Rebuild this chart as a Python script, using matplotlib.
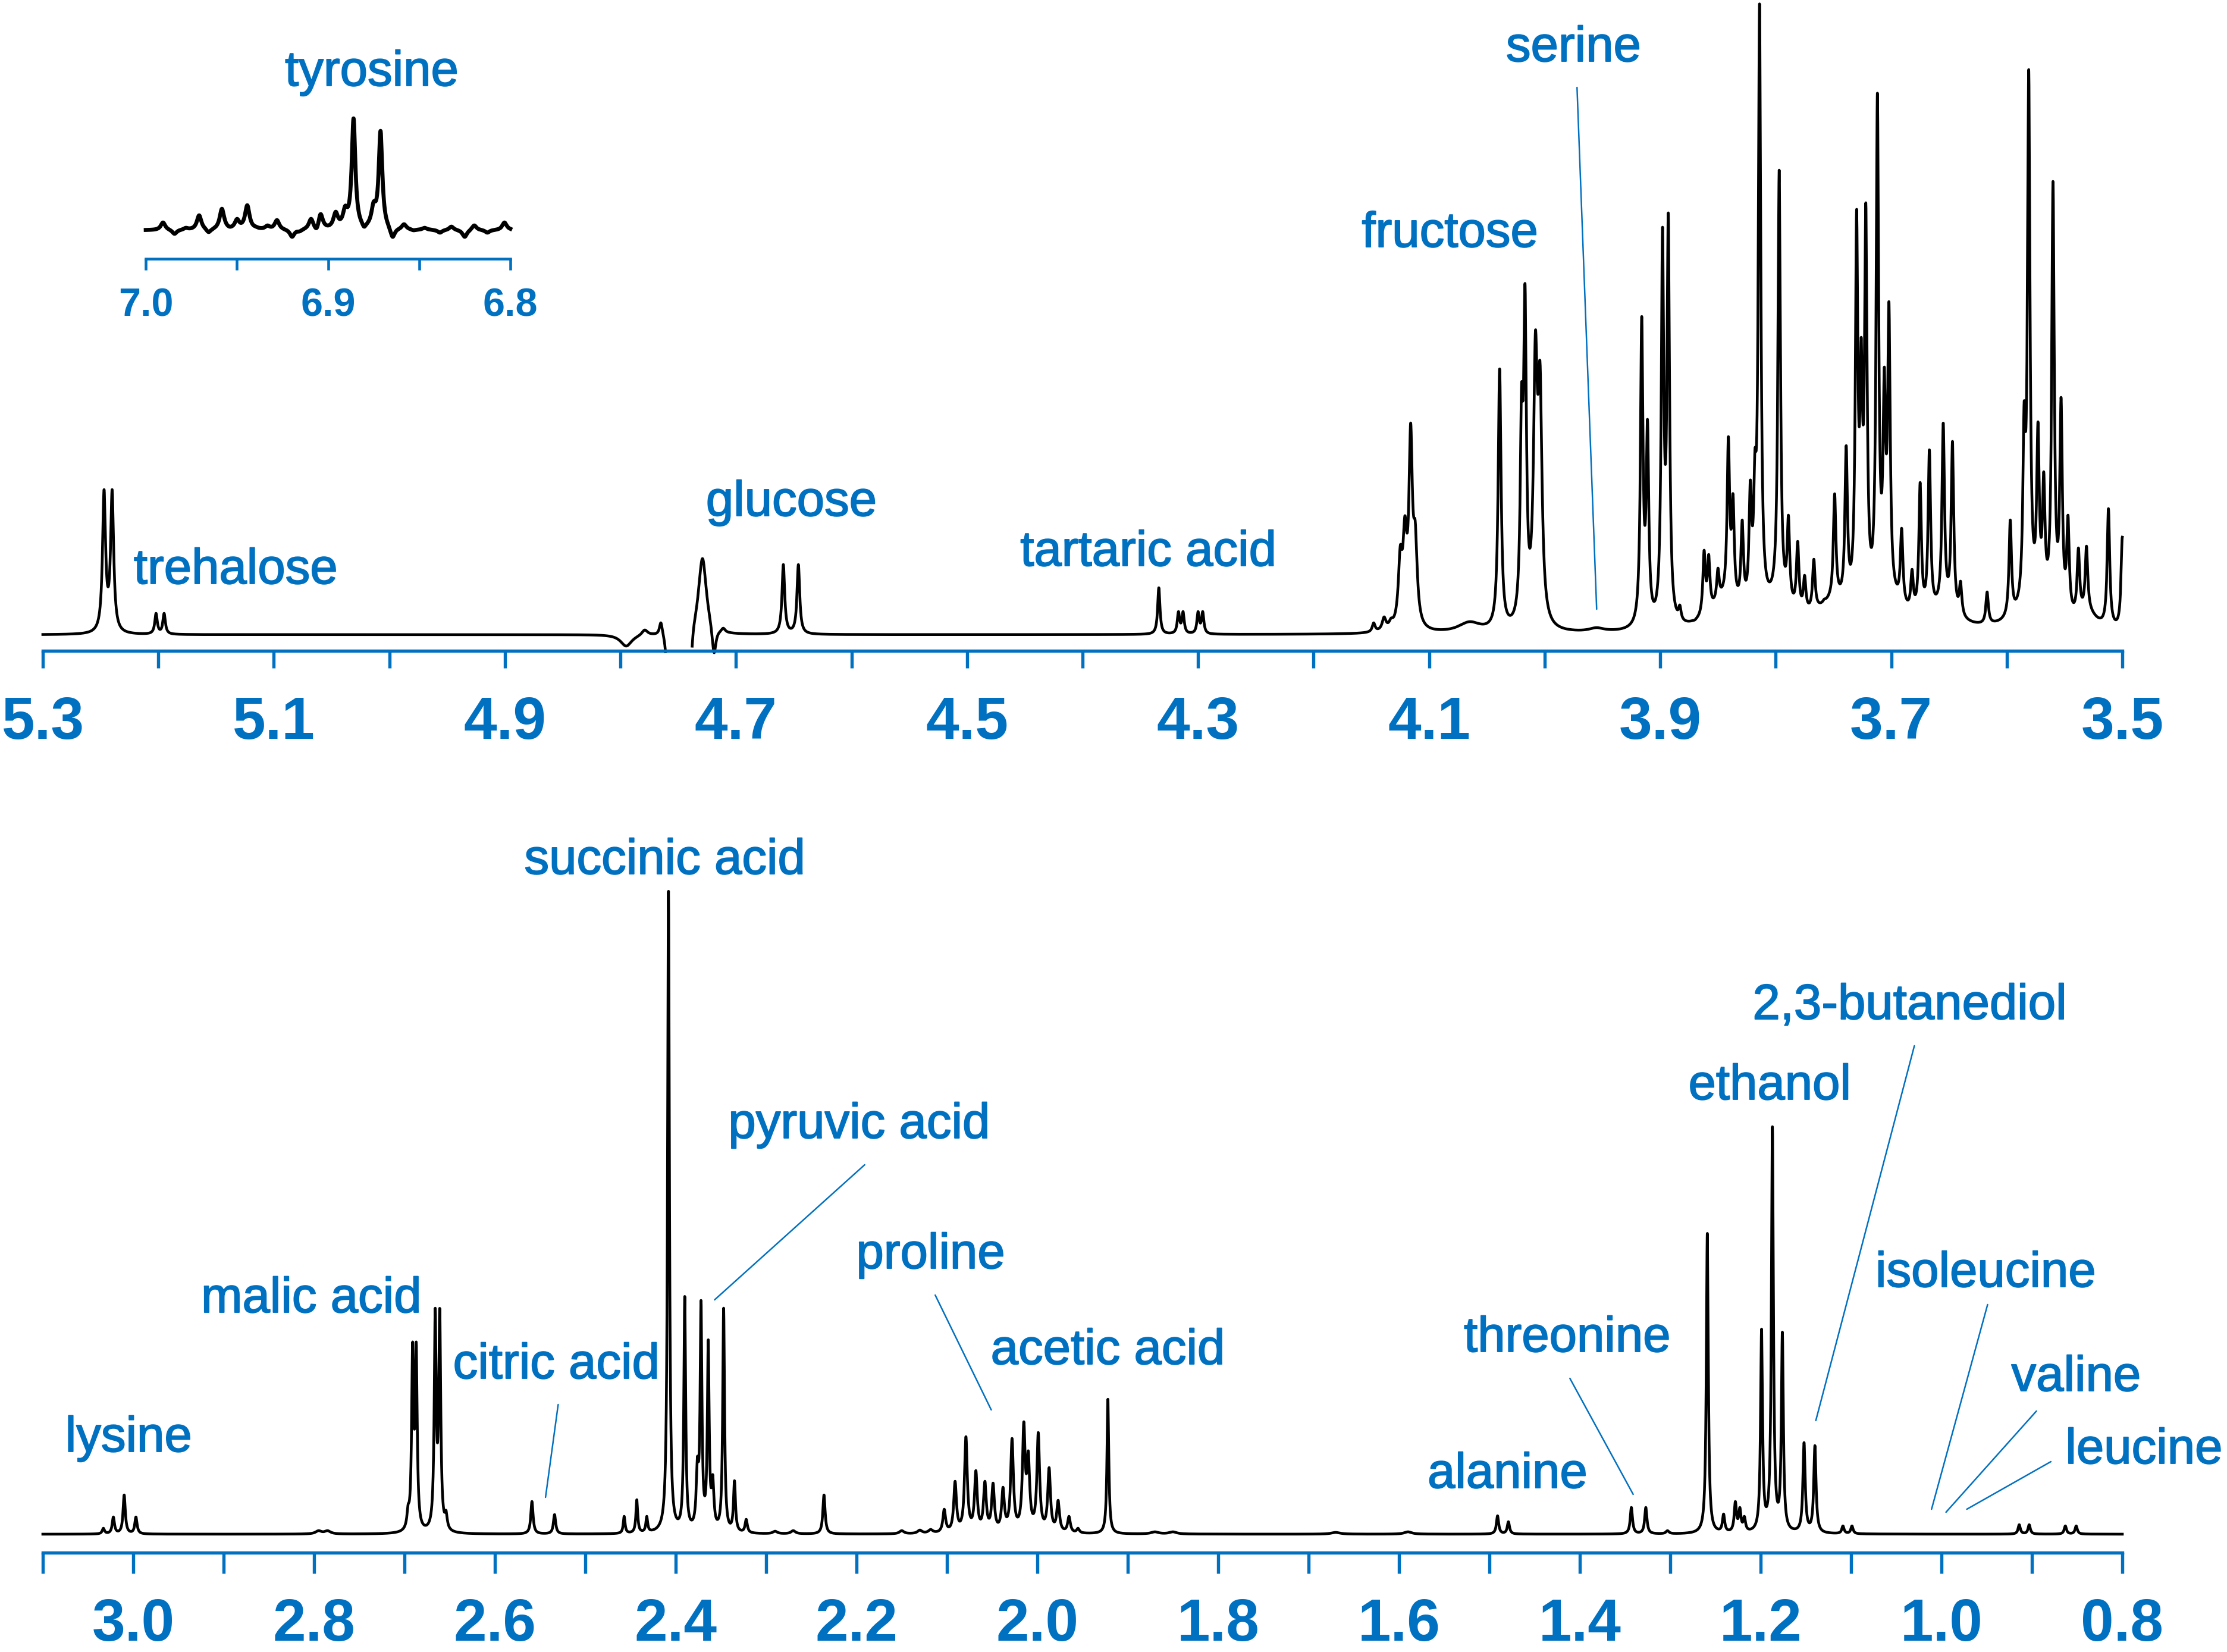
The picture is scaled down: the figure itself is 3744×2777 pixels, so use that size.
import matplotlib.pyplot as plt
import matplotlib.patheffects as pe
import numpy as np

plt.rcParams['font.family'] = ['Liberation Sans', 'DejaVu Sans']

BLUE = '#0070C0'

# ---- peak tables ----
# shift (ppm), height above baseline (image px), half width (ppm)
top_shift = [5.247, 5.240, 5.202, 5.195,
             4.795, 4.779, 4.765, 4.760, 4.739, 4.729, 4.719, 4.711,
             4.659, 4.646,
             4.334, 4.317, 4.313, 4.300, 4.296,
             4.148, 4.139, 4.133, 4.125, 4.121, 4.116, 4.112, 4.065,
             4.039, 4.020, 4.017, 4.008, 4.004, 3.955,
             3.916, 3.911, 3.898, 3.893, 3.883, 3.870, 3.862, 3.858, 3.850, 3.841,
             3.837, 3.829, 3.822, 3.818, 3.814, 3.797, 3.789, 3.781, 3.775, 3.767,
             3.758, 3.749, 3.739, 3.730, 3.726, 3.722, 3.712, 3.706, 3.702, 3.691,
             3.682, 3.675, 3.667, 3.655, 3.647, 3.640, 3.617, 3.597, 3.585, 3.581,
             3.573, 3.568, 3.560, 3.553, 3.547, 3.538, 3.531, 3.512, 3.500]
top_height = [244, 244, 36, 36,
              -19, 8, 20, -45, -45, 128, -30, 11,
              118, 118,
              79, 39, 39, 39, 39,
              20, 30, 28, 150, 200, 356, 190, 22,
              447, 421, 590, 511, 458, 12,
              535, 362, 685, 709, 50, 25, 142, 135, 112, 333,
              237, 193, 260, 311, 1061, 781, 201, 157, 100, 127,
              60, 237, 318, 715, 500, 726, 911, 450, 560, 179,
              110, 256, 311, 356, 325, 90, 72, 193, 391, 950,
              358, 274, 762, 399, 201, 146, 149, 212, 164]
top_hwhm = ([0.0016, 0.0016, 0.0013, 0.0013,
             0.006, 0.003, 0.0015, 0.0015, 0.0015, 0.0042, 0.002, 0.002,
             0.0014, 0.0014,
             0.0012, 0.0012, 0.0012, 0.0012, 0.0012,
             0.0015, 0.002, 0.002, 0.002, 0.002, 0.0018, 0.002, 0.012,
             0.0015, 0.0014, 0.0014, 0.002, 0.002, 0.008]
            + [0.0013] * 49)

# broad envelope under the crowded sugar region
top_broad_shift = [3.845, 3.80, 3.75, 3.70, 3.655, 3.575, 3.53]
top_broad_height = [45, 35, 40, 35, 30, 35, 25]
top_broad_hwhm = [0.015, 0.015, 0.02, 0.015, 0.015, 0.02, 0.01]

bot_shift = [3.033, 3.022, 3.010, 2.997,
             2.795, 2.785,
             2.696, 2.691, 2.687, 2.666, 2.661, 2.654,
             2.559, 2.534,
             2.457, 2.443, 2.432,
             2.408,
             2.390, 2.376, 2.372, 2.364, 2.359, 2.347, 2.335, 2.322,
             2.290, 2.270, 2.236, 2.150, 2.130, 2.118,
             2.103, 2.091, 2.079, 2.068, 2.058, 2.049, 2.038, 2.028, 2.015,
             2.010, 1.999, 1.987, 1.977, 1.965, 1.955,
             1.922,
             1.870, 1.850, 1.670, 1.590,
             1.491, 1.479,
             1.343, 1.327, 1.303,
             1.259,
             1.241, 1.228, 1.223, 1.218,
             1.199, 1.187, 1.176,
             1.152, 1.140,
             1.109, 1.099, 0.914, 0.903, 0.863, 0.851]
bot_height = [10, 29, 66, 29,
              6, 6,
              50, 323, 323, 380, 380, 40,
              55, 33,
              30, 58, 30,
              1082,
              400, 130, 393, 327, 100, 380, 90, 25,
              5, 6, 66, 6, 7, 8,
              42, 89, 164, 107, 89, 86, 79, 161, 189,
              140, 171, 112, 57, 30, 10,
              227,
              4, 4, 3, 4,
              31, 21,
              45, 45, 6,
              506,
              34, 55, 45, 30,
              345, 685, 340,
              154, 149,
              14, 14, 16, 16, 14, 14]
bot_hwhm = [0.0015, 0.0015, 0.0015, 0.0015,
            0.004, 0.004,
            0.0015, 0.0013, 0.0013, 0.0013, 0.0013, 0.0015,
            0.0015, 0.0015,
            0.0012, 0.0012, 0.0012,
            0.0012,
            0.0012, 0.0015, 0.0012, 0.0012, 0.0015, 0.0012, 0.0013, 0.0015,
            0.003, 0.003, 0.0015, 0.003, 0.003, 0.003,
            0.0018, 0.0018, 0.0018, 0.0018, 0.0018, 0.0018, 0.0018, 0.0018, 0.0018,
            0.0018, 0.0018, 0.0018, 0.0018, 0.0018, 0.0018,
            0.0012,
            0.005, 0.005, 0.006, 0.005,
            0.0015, 0.0015,
            0.0015, 0.0015, 0.002,
            0.0013,
            0.0015, 0.0015, 0.0015, 0.0015,
            0.0013, 0.0013, 0.0013,
            0.0015, 0.0015,
            0.0015, 0.0015, 0.0015, 0.0015, 0.0015, 0.0015]

ins_shift = [6.9905, 6.9842, 6.978, 6.9707, 6.9655, 6.9582, 6.954, 6.9499, 6.9443,
             6.9395, 6.9332, 6.928, 6.9197, 6.9156, 6.9093, 6.9062, 6.9041, 6.900,
             6.8958, 6.8906, 6.886, 6.8802, 6.875, 6.8712, 6.8646, 6.8583, 6.8531,
             6.8469, 6.8386, 6.8323, 6.825, 6.8198, 6.8126, 6.8032]
ins_height = [13, -6, 4, 25, -3, 36, 6, 19, 42,
              6, 8, 17, -11, -2, 19, 4, 27, 8,
              31, 41, 188, 6, 48, 167, -11, 10, 0,
              4, -4, 6, -11, 8, -4, 13]
ins_hwhm = [0.0015] * 20 + [0.0012, 0.0012, 0.0015, 0.0012] + [0.0015] * 10

# water signal cut out of the upper trace
water_gap = (4.738, 4.761)

top_ticks = [5.3, 5.1, 4.9, 4.7, 4.5, 4.3, 4.1, 3.9, 3.7, 3.5]
top_minor = [5.2, 5.0, 4.8, 4.6, 4.4, 4.2, 4.0, 3.8, 3.6]
bot_ticks = [3.0, 2.8, 2.6, 2.4, 2.2, 2.0, 1.8, 1.6, 1.4, 1.2, 1.0, 0.8]
bot_minor = [3.1, 2.9, 2.7, 2.5, 2.3, 2.1, 1.9, 1.7, 1.5, 1.3, 1.1, 0.9]
ins_ticks = [7.0, 6.9, 6.8]
ins_minor = [6.95, 6.85]

top_names = ['trehalose', 'glucose', 'tartaric acid', 'fructose', 'serine']
bot_names = ['lysine', 'malic acid', 'citric acid', 'succinic acid', 'pyruvic acid',
             'proline', 'acetic acid', 'alanine', 'threonine', 'ethanol',
             '2,3-butanediol', 'isoleucine', 'valine', 'leucine']
ins_name = 'tyrosine'


def lorentz(x, s, w):
    return 1.0 / (1.0 + ((x[:, None] - s[None, :]) / w[None, :]) ** 2)


def spectrum(x, shifts, heights, widths, broad=None):
    s = np.asarray(shifts, float)
    h = np.asarray(heights, float)
    w = np.asarray(widths, float)
    base_x = np.zeros_like(x)
    if broad is not None:
        bs, bh, bw = (np.asarray(v, float) for v in broad)
        h = h - (bh[None, :] * lorentz(s, bs, bw)).sum(axis=1)
        base_x = (bh[None, :] * lorentz(x, bs, bw)).sum(axis=1)
    # amplitudes chosen so the trace passes through the read heights
    amp = np.linalg.solve(lorentz(s, s, w), h)
    return (amp[None, :] * lorentz(x, s, w)).sum(axis=1) + base_x


W, H = 3745, 2777
TXT = dict(color=BLUE, fontsize=20, ha='center', va='baseline', clip_on=False,
           path_effects=[pe.withStroke(linewidth=0.45, foreground=BLUE)])
LEAD = dict(arrowstyle='-', color=BLUE, lw=0.6, shrinkA=0, shrinkB=0)


def rect(x0, y0, x1, y1):
    return [x0 / W, 1 - y1 / H, (x1 - x0) / W, (y1 - y0) / H]


def style_axis(ax, lo, hi, major, minor, size, length, pad, lw):
    ax.set_xlim(hi, lo)
    for side in ['top', 'left', 'right']:
        ax.spines[side].set_visible(False)
    ax.spines['bottom'].set_color(BLUE)
    ax.spines['bottom'].set_linewidth(lw)
    ax.set_yticks([])
    ax.set_xticks(major)
    ax.set_xticklabels([f'{v:.1f}' for v in major], fontweight='bold')
    ax.set_xticks(minor, minor=True)
    ax.tick_params(axis='x', which='both', direction='out', length=length, width=lw,
                   color=BLUE, labelcolor=BLUE, labelsize=size, pad=pad)
    ax.patch.set_alpha(0)


fig = plt.figure(figsize=(W / 300, H / 300), dpi=300)

# ---- upper panel ----
ax1 = fig.add_axes(rect(72, 0, 3568, 1094))
x1 = np.linspace(3.5, 5.3, 24000)
y1 = spectrum(x1, top_shift, top_height, top_hwhm,
              broad=(top_broad_shift, top_broad_height, top_broad_hwhm))
y1[(x1 > water_gap[0]) & (x1 < water_gap[1])] = np.nan
ax1.plot(x1, y1, color='black', lw=1.1, clip_on=False)
ax1.set_ylim(-27, 1067)
style_axis(ax1, 3.5, 5.3, top_ticks, top_minor, 24, 7, 11, 1.3)

top_pos = [(5.133, 86), (4.652, 200), (4.343, 116), (4.082, 652), (3.975, 964)]
for name, (px, py) in zip(top_names, top_pos):
    ax1.text(px, py, name, **TXT)
ax1.annotate('', xy=(3.955, 43), xytext=(3.972, 920), annotation_clip=False, arrowprops=LEAD)

# ---- lower panel ----
ax2 = fig.add_axes(rect(72, 1400, 3568, 2610))
x2 = np.linspace(0.8, 3.1, 24000)
y2 = spectrum(x2, bot_shift, bot_height, bot_hwhm)
ax2.plot(x2, y2, color='black', lw=1.1, clip_on=False)
ax2.set_ylim(-31, 1179)
style_axis(ax2, 0.8, 3.1, bot_ticks, bot_minor, 24, 8.5, 9.5, 1.3)

bot_pos = [(3.005, 139), (2.803, 373), (2.532, 262), (2.412, 1110), (2.197, 666),
           (2.118, 447), (1.922, 286), (1.480, 78), (1.414, 307), (1.190, 731),
           (1.035, 866), (0.951, 416), (0.851, 241), (0.776, 119)]
for name, (px, py) in zip(bot_names, bot_pos):
    ax2.text(px, py, name, **TXT)

leaders = [((2.530, 218), (2.544, 62)),
           ((2.191, 621), (2.357, 394)),
           ((2.113, 402), (2.051, 209)),
           ((1.411, 262), (1.341, 67)),
           ((1.030, 821), (1.139, 191)),
           ((0.949, 386), (1.011, 42)),
           ((0.895, 207), (0.995, 37)),
           ((0.879, 122), (0.972, 42))]
for start, end in leaders:
    ax2.annotate('', xy=end, xytext=start, annotation_clip=False, arrowprops=LEAD)

# ---- inset ----
ax3 = fig.add_axes(rect(245, 150, 858, 435))
x3 = np.linspace(6.8, 7.0, 6000)
y3 = spectrum(x3, ins_shift, ins_height, ins_hwhm)
ax3.plot(x3, y3, color='black', lw=1.6, clip_on=False)
ax3.set_ylim(-48, 237)
style_axis(ax3, 6.8, 7.0, ins_ticks, ins_minor, 16, 4.6, 7, 1.1)
ax3.text(6.876, 243, ins_name, **TXT)

fig.savefig('out.png', dpi=300)
